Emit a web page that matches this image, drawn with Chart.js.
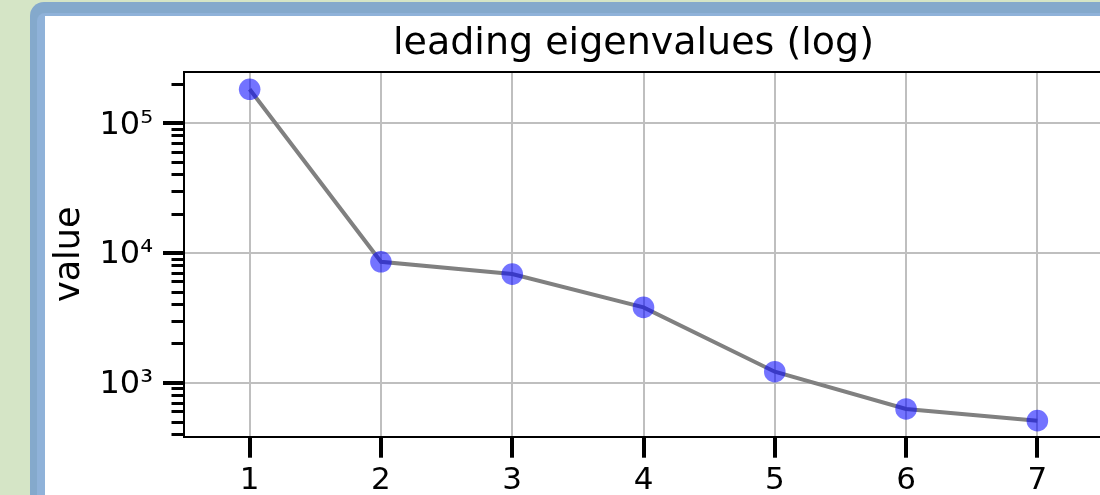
<!DOCTYPE html>
<html>
<head>
<meta charset="utf-8">
<title>leading eigenvalues (log)</title>
<script src="https://cdn.jsdelivr.net/npm/chart.js@4.4.1/dist/chart.umd.min.js"></script>
<style>
  html, body { margin: 0; padding: 0; width: 1100px; height: 495px; overflow: hidden; background: #d5e5c6; }
  .frame-outer { position: absolute; left: 30px; top: 2px; width: 1200px; height: 600px; background: #84a9cc; border-radius: 14px; }
  .frame-inner { position: absolute; left: 37px; top: 13px; width: 1200px; height: 600px; background: #8fb2d9; border-radius: 8px 0 0 0; }
  .panel { position: absolute; left: 45px; top: 16px; width: 1200px; height: 600px; background: #ffffff; }
  #chart { position: absolute; left: 45px; top: 16px; }
</style>
</head>
<body>
<div class="frame-outer"></div>
<div class="frame-inner"></div>
<div class="panel"></div>
<canvas id="chart" width="1100" height="479"></canvas>
<script>
// Component index and its eigenvalue
const categories = ['1', '2', '3', '4', '5', '6', '7'];
const eigenvalues = [182600, 8575, 6895, 3820, 1222, 631, 513];

// Log axis range and labelled decades
const yMin = 386;
const yMax = 248900;
const yMajorTicks = [1e3, 1e4, 1e5];
const yMajorLabels = ['10³', '10⁴', '10⁵'];

// Minor ticks: 2..9 times each decade inside the range
const yMinorTicks = [];
for (let e = 2; e <= 5; e++) {
  for (let m = 2; m <= 9; m++) {
    const v = m * Math.pow(10, e);
    if (v >= yMin && v <= yMax) yMinorTicks.push(v);
  }
}

Chart.defaults.font.family = "'DejaVu Sans', sans-serif";
Chart.defaults.color = '#000000';

const gridColor = '#bfbfbf';

// The title box spans the plot area; widen it a little to the left
const titleShift = {
  id: 'titleShift',
  afterLayout(chart) {
    if (chart.titleBlock) {
      chart.titleBlock.left -= 20;
      chart.titleBlock.width += 20;
    }
  }
};

new Chart(document.getElementById('chart'), {
  type: 'line',
  data: {
    labels: categories,
    datasets: [{
      data: eigenvalues,
      borderColor: '#808080',
      borderWidth: 4,
      tension: 0,
      fill: false,
      pointRadius: 10.8,
      pointHoverRadius: 10.8,
      pointBorderWidth: 0,
      pointBackgroundColor: 'rgba(0, 0, 255, 0.55)',
      xAxisID: 'x',
      yAxisID: 'y'
    }]
  },
  plugins: [titleShift],
  options: {
    responsive: false,
    animation: false,
    devicePixelRatio: 1,
    events: [],
    layout: { padding: { left: 0, right: 42, top: 0, bottom: 0 } },
    plugins: {
      legend: { display: false },
      tooltip: { enabled: false },
      title: {
        display: true,
        text: 'leading eigenvalues (log)',
        fullSize: false,
        color: '#000000',
        font: { size: 38, weight: 'normal' },
        padding: { top: 5.8, bottom: 4.4 }
      }
    },
    scales: {
      x: {
        type: 'category',
        position: 'bottom',
        offset: true,
        grid: { offset: false, color: gridColor, lineWidth: 2, tickLength: 21, tickColor: '#000000', tickWidth: 4 },
        border: { color: '#000000', width: 2 },
        ticks: { font: { size: 31 }, padding: 4.7, maxRotation: 0, autoSkip: false, color: '#000000' },
        afterFit: s => { s.height = 58.3; }
      },
      xTop: {
        type: 'category',
        position: 'top',
        offset: true,
        ticks: { display: false },
        grid: { display: false, drawTicks: false },
        border: { color: '#000000', width: 2 },
        afterFit: s => { s.height = 0; }
      },
      y: {
        type: 'logarithmic',
        position: 'left',
        weight: 1,
        min: yMin,
        max: yMax,
        afterBuildTicks: s => { s.ticks = yMajorTicks.map(v => ({ value: v, major: true })); },
        ticks: {
          font: { size: 32 },
          padding: 10,
          color: '#000000',
          labelOffset: 2,
          callback: v => {
            const i = yMajorTicks.indexOf(v);
            return i >= 0 ? yMajorLabels[i] : '';
          }
        },
        grid: { color: gridColor, lineWidth: 2, tickLength: 21, tickColor: '#000000', tickWidth: 4 },
        border: { color: '#000000', width: 2 },
        title: {
          display: true,
          text: 'value',
          color: '#000000',
          font: { size: 35 },
          padding: { top: 3.9, bottom: 0 }
        },
        afterFit: s => { s.width = 139; }
      },
      yMinor: {
        type: 'logarithmic',
        position: 'left',
        weight: 0,
        min: yMin,
        max: yMax,
        afterBuildTicks: s => { s.ticks = yMinorTicks.map(v => ({ value: v })); },
        ticks: { display: false },
        grid: { drawOnChartArea: false, tickLength: 12.5, tickColor: '#000000', tickWidth: 3 },
        border: { display: false },
        afterFit: s => { s.width = 0; }
      }
    }
  }
});
</script>
</body>
</html>
